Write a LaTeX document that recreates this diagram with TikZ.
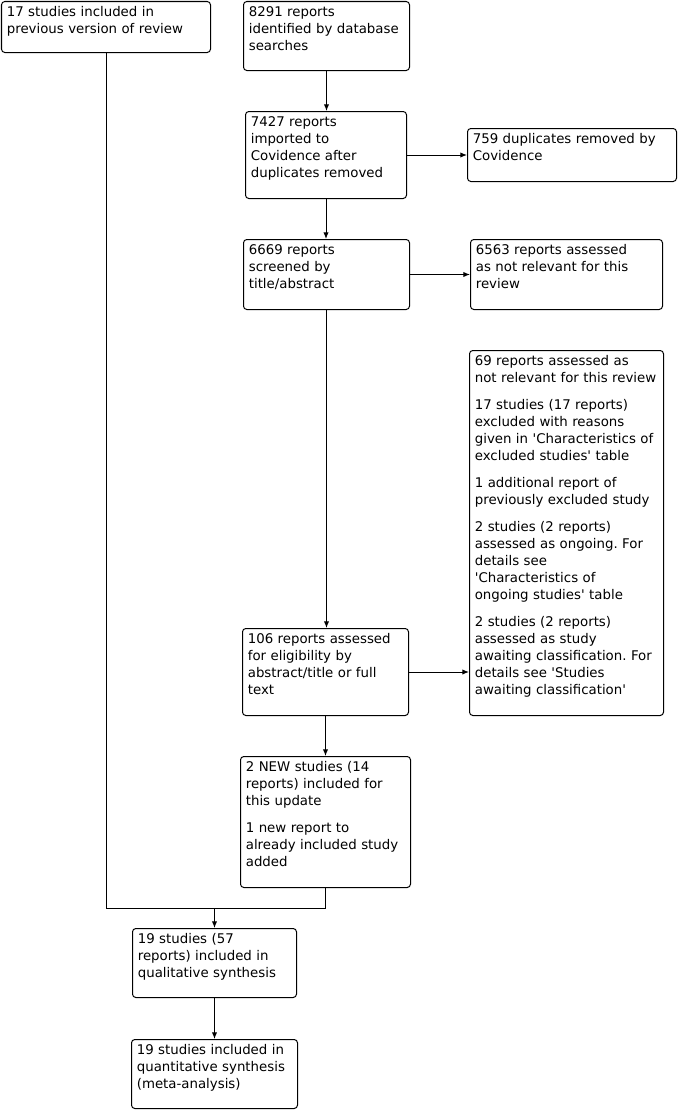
\documentclass[tikz,border=0pt]{standalone}
\usepackage{fontspec}
\setmainfont{DejaVu Sans}
\usepackage{tikz}
\usetikzlibrary{calc,positioning,arrows.meta}
\newcommand{\sq}{\textquotesingle}
\frenchspacing
\tikzset{
  flowbox/.style={
    draw,
    rectangle,
    rounded corners=2.5pt,
    anchor=north west,
    align=left,
    inner xsep=4pt,
    inner ysep=3.5pt,
    text height=8pt,
    line width=0.75pt,
    font=\fontsize{10}{12.75}\selectfont,
  },
  flow/.style={line width=0.75pt, -{Latex[length=5pt,width=4pt]}},
  link/.style={line width=0.75pt},
}
\begin{document}
\begin{tikzpicture}[x=0.75pt,y=-0.75pt]
  \useasboundingbox (0,0) rectangle (679,1110);
  \node[flowbox, text width=148.75pt, text depth=23.25pt] (prev) at (1,1)
    {17 studies included in\\previous version of review};
  \node[flowbox, text width=116.5pt, text depth=36.75pt] (ident) at (243,1)
    {8291 reports\\identified by database\\searches};
  \node[flowbox, text width=112.75pt, text depth=50.25pt] (imported) at (245,111)
    {7427 reports\\imported to\\Covidence after\\duplicates removed};
  \node[flowbox, text width=148.75pt, text depth=24.75pt] (dupl) at (467,128)
    {759 duplicates removed by\\Covidence};
  \node[flowbox, text width=116.5pt, text depth=37.5pt] (screened) at (243,239)
    {6669 reports\\screened by\\title/abstract};
  \node[flowbox, text width=136pt, text depth=37.5pt] (notrel) at (470,239)
    {6563 reports assessed\\as not relevant for this\\review};
  \node[flowbox, text width=137.5pt, text depth=258.75pt] (excl) at (469,350)
    {69 reports assessed as\\not relevant for this review\\[7.5pt]
     17 studies (17 reports)\\excluded with reasons\\given in \sq Characteristics of\\excluded studies\sq{} table\\[7.5pt]
     1 additional report of\\previously excluded study\\[7.5pt]
     2 studies (2 reports)\\assessed as ongoing. For\\details see\\\sq Characteristics of\\ongoing studies\sq{} table\\[7.5pt]
     2 studies (2 reports)\\assessed as study\\awaiting classification. For\\details see \sq Studies\\awaiting classification\sq};
  \node[flowbox, text width=116.5pt, text depth=50.25pt] (assessed) at (242,628)
    {106 reports assessed\\for eligibility by\\abstract/title or full\\text};
  \node[flowbox, text width=119.5pt, text depth=83.25pt] (included) at (240,756)
    {2 NEW studies (14\\reports) included for\\this update\\[7.5pt]
     1 new report to\\already included study\\added};
  \node[flowbox, text width=115pt, text depth=36.75pt] (qual) at (132,928)
    {19 studies (57\\reports) included in\\qualitative synthesis};
  \node[flowbox, text width=116.5pt, text depth=36.75pt] (quant) at (131,1039)
    {19 studies included in\\quantitative synthesis\\(meta-analysis)};
  \coordinate (merge) at (qual.north |- 0,908);

  \draw[flow] (ident.south) -- (ident.south |- imported.north);
  \draw[flow] (imported.east) -- (imported.east -| dupl.west);
  \draw[flow] (imported.south) -- (imported.south |- screened.north);
  \draw[flow] (screened.east) -- (screened.east -| notrel.west);
  \draw[flow] (screened.south) -- (screened.south |- assessed.north);
  \draw[flow] (assessed.east) -- (assessed.east -| excl.west);
  \draw[flow] (assessed.south) -- (assessed.south |- included.north);
  \draw[link] (prev.south) |- (included.south |- merge) -- (included.south);
  \draw[flow] (merge) -- (qual.north);
  \draw[flow] (qual.south) -- (qual.south |- quant.north);
\end{tikzpicture}
\end{document}
